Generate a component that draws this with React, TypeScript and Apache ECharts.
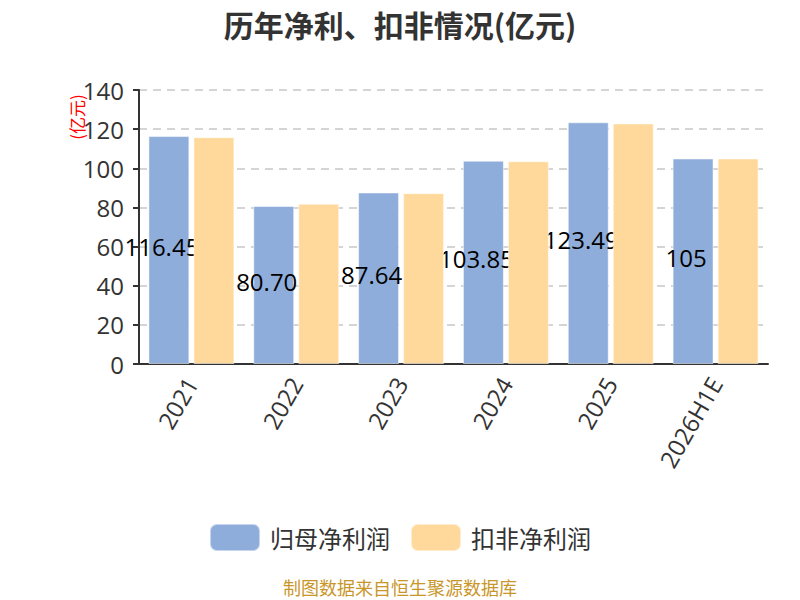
import React, { useEffect, useRef } from "react";
import * as echarts from "echarts";

const categories = ["2021", "2022", "2023", "2024", "2025", "2026H1E"];
const netProfit = [116.45, 80.7, 87.64, 103.85, 123.49, 105];
const deductedProfit = [115.9, 81.9, 87.3, 103.6, 122.9, 105.0];
const yTicks = { min: 0, max: 140, interval: 20 };
const seriesNames = ["归母净利润", "扣非净利润"];

const FONT = "'Open Sans', 'Noto Sans CJK SC', sans-serif";
const CJK = "'Noto Sans CJK SC', sans-serif";

export default function App() {
  const ref = useRef<HTMLDivElement>(null);
  useEffect(() => {
    document.body.style.margin = "0";
    if (!ref.current) return;
    const chart = echarts.init(ref.current, undefined, { renderer: "svg" });
    chart.setOption({
      animation: false,
      textStyle: { fontFamily: FONT },
      title: {
        text: "历年净利、扣非情况(亿元)",
        left: "center",
        top: 4,
        textStyle: { fontSize: 30, fontWeight: "bold", color: "#333", fontFamily: CJK },
      },
      grid: { left: 139, right: 32, top: 90, bottom: 236, containLabel: false },
      legend: {
        data: seriesNames,
        top: 518,
        left: "center",
        itemWidth: 50,
        itemHeight: 27,
        itemGap: 20,
        icon: "roundRect",
        textStyle: { fontSize: 24, color: "#333", fontFamily: CJK, padding: [0, 0, 0, 5] },
      },
      graphic: [
        {
          type: "text",
          x: 76,
          y: 117,
          rotation: Math.PI / 2,
          style: {
            text: "(亿元)",
            fill: "#ff0000",
            fontSize: 17,
            fontFamily: CJK,
            align: "center",
            verticalAlign: "middle",
          },
        },
        {
          type: "text",
          left: "center",
          top: 578,
          style: {
            text: "制图数据来自恒生聚源数据库",
            fill: "#c9962a",
            fontSize: 18,
            fontFamily: CJK,
          },
        },
      ],
      xAxis: {
        type: "category",
        data: categories,
        axisLine: { lineStyle: { color: "#333", width: 2 } },
        axisTick: { lineStyle: { color: "#333", width: 2 }, length: 6 },
        axisLabel: { rotate: 60, fontSize: 24, color: "#333", margin: 15 },
      },
      yAxis: {
        type: "value",
        min: yTicks.min,
        max: yTicks.max,
        interval: yTicks.interval,
        axisLine: { show: true, lineStyle: { color: "#333", width: 2 } },
        axisTick: { show: true, lineStyle: { color: "#333", width: 2 }, length: 6 },
        axisLabel: { fontSize: 24, color: "#333", margin: 15 },
        splitLine: { lineStyle: { type: [8, 6], color: "#c8c8c8", width: 1.5 } },
      },
      series: [
        {
          name: seriesNames[0],
          type: "bar",
          data: netProfit,
          barGap: "10%",
          barCategoryGap: "18%",
          z: 2,
          itemStyle: { color: "#8eadda", borderColor: "rgba(255,255,255,0.5)", borderWidth: 1 },
          label: {
            show: true,
            position: "inside",
            color: "#000",
            fontSize: 24,
            offset: [-7, -4],
            formatter: (p: any) => {
              const v = p.value as number;
              return Number.isInteger(v) ? String(v) : v.toFixed(2);
            },
          },
        },
        {
          name: seriesNames[1],
          type: "bar",
          data: deductedProfit,
          barGap: "10%",
          barCategoryGap: "18%",
          z: 3,
          itemStyle: { color: "#ffd99b", borderColor: "rgba(255,255,255,0.5)", borderWidth: 1 },
        },
      ],
    });
    return () => chart.dispose();
  }, []);
  return <div ref={ref} style={{ width: 800, height: 600 }} />;
}
